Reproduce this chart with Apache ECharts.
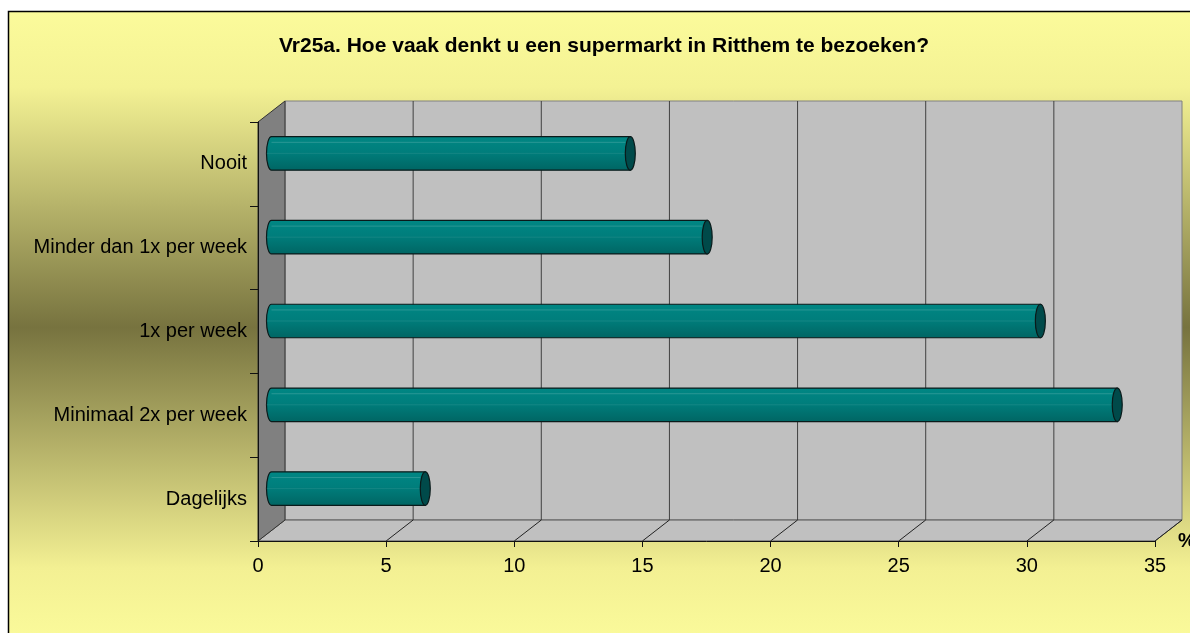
<!DOCTYPE html>
<html><head><meta charset="utf-8">
<script src="https://cdn.jsdelivr.net/npm/echarts@6/dist/echarts.min.js"></script>
<style>html,body{margin:0;padding:0;background:#fff;overflow:hidden;}#c{width:1190px;height:633px;}</style>
</head><body><div id="c"></div>
<script>
const titleText = 'Vr25a. Hoe vaak denkt u een supermarkt in Ritthem te bezoeken?';
const categories = ['Nooit', 'Minder dan 1x per week', '1x per week', 'Minimaal 2x per week', 'Dagelijks'];
const values = [14, 17, 30, 33, 6];
const xTicks = [0, 5, 10, 15, 20, 25, 30, 35];
const unitLabel = '%';

const DX = 27, DY = 21;
const FONT = "'Liberation Sans', Arial, sans-serif";
const chart = echarts.init(document.getElementById('c'), null, { renderer: 'canvas', width: 1190, height: 633 });

function renderFrame(params, api) {
  const cs = params.coordSys;
  const x0 = cs.x, y0 = cs.y, x1 = cs.x + cs.width, y1 = cs.y + cs.height;
  const ch = [];
  ch.push({ type: 'rect', shape: { x: x0 + DX, y: y0 - DY, width: cs.width, height: cs.height },
    style: { fill: '#C0C0C0', stroke: '#808080', lineWidth: 1 } });
  ch.push({ type: 'polygon', shape: { points: [[x0, y1], [x0 + DX, y1 - DY], [x1 + DX, y1 - DY], [x1, y1]] },
    style: { fill: '#C0C0C0', stroke: '#555', lineWidth: 1 } });
  ch.push({ type: 'polygon', shape: { points: [[x0, y0], [x0 + DX, y0 - DY], [x0 + DX, y1 - DY], [x0, y1]] },
    style: { fill: '#808080', stroke: '#333', lineWidth: 1 } });
  const last = xTicks[xTicks.length - 1];
  xTicks.forEach(function (v) {
    const px = api.coord([v, 0])[0];
    if (v > xTicks[0] && v < last) {
      ch.push({ type: 'line', shape: { x1: px + DX, y1: y0 - DY, x2: px + DX, y2: y1 - DY },
        style: { stroke: '#404040', lineWidth: 1 } });
    }
    if (v > xTicks[0]) {
      ch.push({ type: 'line', shape: { x1: px, y1: y1, x2: px + DX, y2: y1 - DY },
        style: { stroke: '#222', lineWidth: 1 } });
    }
  });
  return { type: 'group', children: ch };
}

function renderBar(params, api) {
  const v = api.value(0), i = api.value(1);
  const s = api.coord([0, i]), e = api.coord([v, i]);
  const band = api.size([0, 1])[1];
  const h = band * 0.4, ry = h / 2, rx = 5;
  const cx0 = s[0] + DX / 2, cx1 = e[0] + DX / 2, cy = s[1] - DY / 2;
  const top = cy - ry, bot = cy + ry;
  const grad = new echarts.graphic.LinearGradient(0, 0, 0, 1, [
    { offset: 0, color: '#008784' }, { offset: 0.45, color: '#007E7C' }, { offset: 1, color: '#006563' }
  ]);
  const body = 'M' + cx1 + ' ' + top + ' L' + cx0 + ' ' + top +
    ' A' + rx + ' ' + ry + ' 0 0 0 ' + cx0 + ' ' + bot + ' L' + cx1 + ' ' + bot + ' Z';
  const cap = 'M' + (cx1 - rx) + ' ' + cy + ' A' + rx + ' ' + ry + ' 0 1 0 ' + (cx1 + rx) + ' ' + cy +
    ' A' + rx + ' ' + ry + ' 0 1 0 ' + (cx1 - rx) + ' ' + cy + ' Z';
  return {
    type: 'group', children: [
      { type: 'path', shape: { pathData: body }, style: { fill: grad, stroke: '#0A1A1A', lineWidth: 1.2 } },
      { type: 'line', shape: { x1: cx0, y1: top + h * 0.17, x2: cx1 - rx, y2: top + h * 0.17 },
        style: { stroke: 'rgba(255,255,255,0.16)', lineWidth: 1 } },
      { type: 'line', shape: { x1: cx0 - rx, y1: cy, x2: cx1 - rx, y2: cy },
        style: { stroke: 'rgba(255,255,255,0.08)', lineWidth: 1 } },
      { type: 'path', shape: { pathData: cap }, style: { fill: '#004A4A', stroke: '#0A1A1A', lineWidth: 1.2 } }
    ]
  };
}

const option = {
  animation: false,
  backgroundColor: '#ffffff',
  graphic: [{
    type: 'rect', z: -10, shape: { x: 8.5, y: 11.5, width: 1400, height: 632 },
    style: {
      stroke: '#000', lineWidth: 1.5,
      fill: new echarts.graphic.LinearGradient(0, 0, 0, 1, [
        { offset: 0, color: '#FBFB9B' }, { offset: 0.12, color: '#F4F294' },
        { offset: 0.5, color: '#77733F' }, { offset: 0.88, color: '#F3F093' }, { offset: 1, color: '#FBFB9B' }
      ])
    }
  }],
  title: {
    text: titleText, left: 604, top: 36, textAlign: 'center', padding: 0,
    textStyle: { fontFamily: FONT, fontSize: 21, fontWeight: 'bold', color: '#000' }
  },
  grid: { left: 258, top: 122, width: 897, height: 419, containLabel: false, outerBoundsMode: 'none' },
  xAxis: {
    type: 'value', min: xTicks[0], max: xTicks[xTicks.length - 1], interval: xTicks[1] - xTicks[0], z: 5,
    name: unitLabel, nameLocation: 'end', nameGap: 23,
    nameTextStyle: { fontFamily: FONT, fontSize: 20, fontWeight: 'bold', color: '#000', padding: [24, 0, 0, 0] },
    axisLine: { show: true, lineStyle: { color: '#111', width: 1 } },
    axisTick: { show: true, length: 6, lineStyle: { color: '#111' } },
    axisLabel: { fontFamily: FONT, fontSize: 20, color: '#000', margin: 15 },
    splitLine: { show: false }
  },
  yAxis: {
    type: 'category', data: categories, inverse: true, z: 5,
    axisLine: { show: true, lineStyle: { color: '#111', width: 1 } },
    axisTick: { show: true, length: 8, lineStyle: { color: '#111' } },
    axisLabel: { fontFamily: FONT, fontSize: 20, color: '#000', margin: 11 },
    splitLine: { show: false }
  },
  series: [
    { type: 'custom', name: 'frame', z: 1, silent: true, renderItem: renderFrame,
      data: [[0, 0]], encode: { x: 0, y: 1 } },
    { type: 'custom', name: 'Percentage', z: 3, renderItem: renderBar,
      data: values.map(function (v, i) { return [v, i]; }), encode: { x: 0, y: 1 } }
  ]
};
chart.setOption(option);
</script>
</body></html>
